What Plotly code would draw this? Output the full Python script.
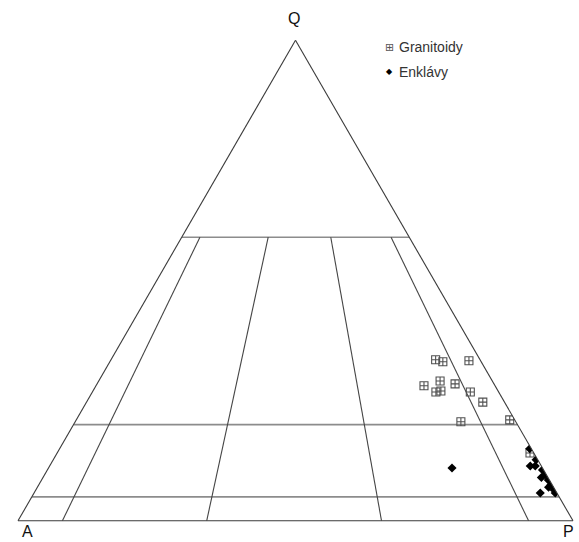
import plotly.graph_objects as go

# QAP classification diagram: Q top, A bottom-left, P bottom-right.
# Field boundaries
q_levels = [59, 20, 5]                   # horizontal lines, % Q
p_ratio_top = [8, 38, 65.5, 92]          # P/(A+P) % where each line leaves the upper Q line
p_ratio_base = [8, 34, 65.5, 92]         # P/(A+P) % where each line meets the A-P base

# Granitoidy  (Q, A, P in %)
gran_q = [33.5, 33.1, 33.3, 29.1, 28.1, 26.8, 27.0, 28.5, 26.8, 24.7, 20.6, 21.0, 14.1]
gran_a = [8.0, 6.9, 2.1, 9.4, 12.8, 11.3, 10.3, 7.0, 5.1, 3.9, 9.9, 0.9, 0.7]
gran_p = [58.5, 60.0, 64.6, 61.5, 59.1, 61.9, 62.7, 64.5, 68.1, 71.4, 69.5, 78.1, 85.2]

# Enklávy  (Q, A, P in %)
enk_q = [11.0, 15.0, 12.7, 11.4, 11.4, 10.6, 9.6, 9.0, 8.5, 7.5, 7.0, 6.4, 5.8, 5.8]
enk_a = [16.3, 0.3, 0.3, 2.0, 1.1, 0.2, 0.2, 1.2, 0.2, 0.2, 0.9, 0.2, 0.3, 3.0]
enk_p = [72.7, 84.7, 87.0, 86.6, 87.5, 89.2, 90.2, 89.8, 91.3, 92.3, 92.1, 93.4, 93.9, 91.2]

legend_names = ["Granitoidy", "Enklávy"]

fig = go.Figure()

# horizontal Q lines
for q in q_levels:
    fig.add_trace(go.Scatterternary(
        a=[q, q], b=[100 - q, 0], c=[0, 100 - q],
        mode="lines", line=dict(color="#8c8c8c", width=1.7),
        showlegend=False, hoverinfo="skip"))

# P/(A+P) lines from the upper Q line down to the A-P base
top_q = q_levels[0]
for rt, rb in zip(p_ratio_top, p_ratio_base):
    ft, fb = rt / 100.0, rb / 100.0
    fig.add_trace(go.Scatterternary(
        a=[top_q, 0],
        b=[(100 - top_q) * (1 - ft), 100 * (1 - fb)],
        c=[(100 - top_q) * ft, 100 * fb],
        mode="lines", line=dict(color="#454545", width=1.1),
        showlegend=False, hoverinfo="skip"))

fig.add_trace(go.Scatterternary(
    a=gran_q, b=gran_a, c=gran_p, mode="markers", name=legend_names[0],
    showlegend=False,
    marker=dict(symbol="square-cross-open", size=8, color="#505050",
                line=dict(width=1.1, color="#505050"))))

fig.add_trace(go.Scatterternary(
    a=enk_q, b=enk_a, c=enk_p, mode="markers", name=legend_names[1],
    showlegend=False,
    marker=dict(symbol="diamond", size=7, color="#000000")))

axis_common = dict(showline=True, linecolor="#3a3a3a", linewidth=1.1,
                   showgrid=False, showticklabels=False, ticks="",
                   title=dict(text=""), min=0)

W, H = 579, 542
FONT = "Liberation Sans, Arial, sans-serif"


def px(x, y):
    return x / W, 1 - y / H


annotations = []
# vertex labels
for label, (x, y) in zip(["Q", "A", "P"], [(294, 19), (27, 531), (568, 531)]):
    ax, ay = px(x, y)
    annotations.append(dict(text=label, x=ax, y=ay, xref="paper", yref="paper",
                            xanchor="center", yanchor="middle", showarrow=False,
                            font=dict(family=FONT, size=16, color="#111111")))

# key: symbol + name
key_rows = [("⊞", 11, "#555555", 47), ("◆", 8, "#000000", 72)]
for (sym, sz, col, y), name in zip(key_rows, legend_names):
    sx, sy = px(389, y)
    annotations.append(dict(text=sym, x=sx, y=sy, xref="paper", yref="paper",
                            xanchor="center", yanchor="middle", showarrow=False,
                            font=dict(family="DejaVu Sans", size=sz, color=col)))
    tx, ty = px(397, y)
    annotations.append(dict(text=name, x=tx, y=ty, xref="paper", yref="paper",
                            xanchor="left", yanchor="middle", showarrow=False,
                            font=dict(family=FONT, size=14, color="#333333")))

fig.update_layout(
    width=W, height=H,
    margin=dict(l=0, r=0, t=0, b=0),
    paper_bgcolor="white", plot_bgcolor="white",
    font=dict(family=FONT, color="#222222"),
    ternary=dict(
        sum=100,
        bgcolor="white",
        domain=dict(x=[18 / W, 573 / W], y=[(H - 521) / H, (H - 40) / H]),
        aaxis=axis_common, baxis=axis_common, caxis=axis_common,
    ),
    showlegend=False,
    annotations=annotations,
)

fig.write_html("out.html")
